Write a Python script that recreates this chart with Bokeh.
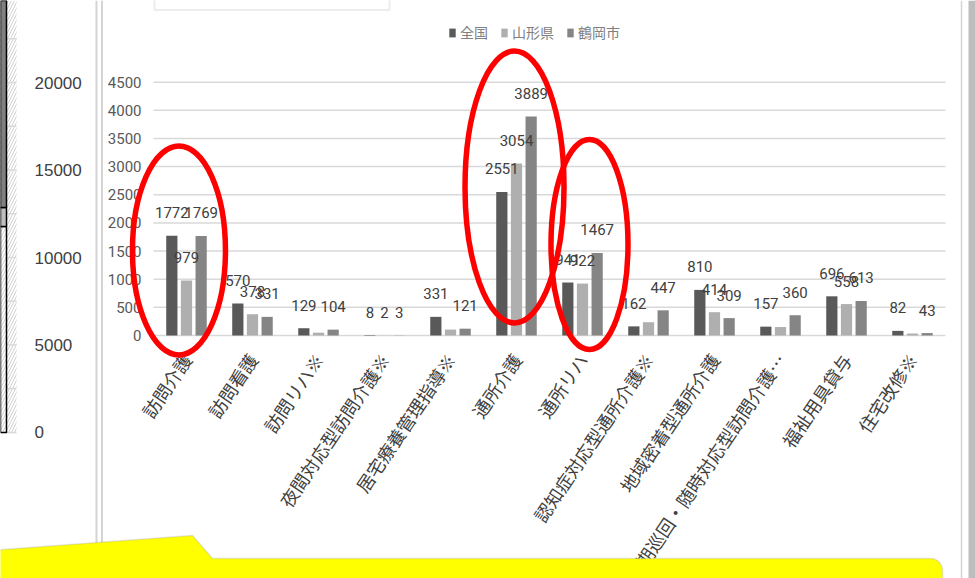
import numpy as np
from bokeh.plotting import figure
from bokeh.models import (Range1d, LinearAxis, FixedTicker, Legend, LegendItem,
                          BoxAnnotation, PolyAnnotation, Span)
from bokeh.core.properties import value
from bokeh.embed import file_html
from bokeh.resources import INLINE

# ---------------- data ----------------
categories = ["訪問介護", "訪問看護", "訪問リハ※", "夜間対応型訪問介護※", "居宅療養管理指導※",
              "通所介護", "通所リハ", "認知症対応型通所介護※", "地域密着型通所介護",
              "定期巡回・随時対応型訪問介護…", "福祉用具貸与", "住宅改修※"]
series_names = ["全国", "山形県", "鶴岡市"]
zenkoku = [1772, 570, 129, 8, 331, 2551, 941, 162, 810, 157, 696, 82]
yamagata = [979, 378, 50, 2, 105, 3054, 922, 236, 414, 150, 558, 35]
tsuruoka = [1769, 331, 104, 3, 121, 3889, 1467, 447, 309, 360, 613, 43]
# which data labels are shown in the original chart
zenkoku_labelled = [True] * 12
yamagata_labelled = [True, True, False, True, False, True, True, False, True, False, True, False]
tsuruoka_labelled = [True] * 12
y_ticks = [0, 500, 1000, 1500, 2000, 2500, 3000, 3500, 4000, 4500]

# emphasised categories (red ellipses)
highlight = ["訪問介護", "通所介護", "通所リハ"]
highlight_level = [1510, 2638, 1617]

# neighbouring (cropped) chart on the left
left_ticks = [0, 5000, 10000, 15000, 20000, 25000]
left_grid = [0, 2500, 5000, 7500, 10000, 12500, 15000, 17500, 20000, 22500, 25000]
left_segments = [11770, 1090, 14000]

# ---------------- styles ----------------
colors = ["#595959", "#afafaf", "#858585"]
offsets = [-0.222, 0.0, 0.222]
bar_w = 0.17
ell_shift = [-0.114, -0.03, 0.106]
ell_w = [93, 99, 77]
ell_h = [209, 272, 210]
W, H = 975, 578
NUM_FONT = "Roboto"
JP_FONT = "Noto Sans CJK JP"

p = figure(width=W, height=H, x_range=Range1d(-2.818, 11.9545), y_range=Range1d(-4317, 5951),
           x_axis_type=None, y_axis_type=None, toolbar_location=None, output_backend="svg",
           min_border=0, outline_line_color=None, background_fill_color="white",
           border_fill_color="white")
p.extra_x_ranges = {"lx": Range1d(0.18, 19.68)}
p.extra_y_ranges = {"ly": Range1d(-8343, 24686)}

# ---- left cropped chart ----
strip = BoxAnnotation(left=-20, right=16, bottom=H - 433, left_units="screen", right_units="screen",
                      bottom_units="screen", fill_alpha=0, line_color=None,
                      hatch_pattern="/", hatch_color="#d0d0d0", hatch_scale=6, hatch_weight=1,
                      level="underlay")
p.add_layout(strip)
p.segment(x0=0.3, x1=0.5, y0=left_grid, y1=left_grid, x_range_name="lx", y_range_name="ly",
          line_color="#d9d9d9", line_width=1.5)
cum = np.cumsum(left_segments)
p.vbar(x=0, bottom=np.concatenate([[0], cum[:-1]]), top=cum, width=0.6,
       x_range_name="lx", y_range_name="ly",
       fill_color=["white", "#bfbfbf", "#808080"], fill_alpha=[0, 1, 1],
       line_color="black", line_width=1.5)
laxis = LinearAxis(x_range_name="lx", y_range_name="ly", ticker=FixedTicker(ticks=left_ticks),
                   fixed_location=0.5, major_label_standoff=12,
                   axis_line_color=None, major_tick_line_color=None, minor_tick_line_color=None,
                   major_label_text_font="Liberation Sans", major_label_text_font_size="17px",
                   major_label_text_color="#404040")
p.add_layout(laxis, "right")

# ---- panel borders ----
for loc, lw in [(96, 2), (101.5, 2), (961, 1.5)]:
    p.add_layout(Span(location=loc, location_units="screen", dimension="height",
                      line_color="#d4d4d4", line_width=lw))
p.add_layout(BoxAnnotation(left=968, right=990, left_units="screen", right_units="screen",
                           fill_color="#bdbdbd", fill_alpha=1, line_color=None))
p.add_layout(BoxAnnotation(left=154, right=389, bottom=H - 9.5, top=H + 10,
                           left_units="screen", right_units="screen", bottom_units="screen",
                           top_units="screen", fill_color="white", fill_alpha=1,
                           line_color="#bfbfbf", line_width=2))

# ---- main chart ----
n = len(categories)
idx = np.arange(n)
p.segment(x0=-0.5, x1=n - 0.5, y0=y_ticks, y1=y_ticks, line_color="#d9d9d9", line_width=1.5)

all_vals = [zenkoku, yamagata, tsuruoka]
all_shown = [zenkoku_labelled, yamagata_labelled, tsuruoka_labelled]
renderers = []
for vals, col, off in zip(all_vals, colors, offsets):
    renderers.append(p.vbar(x=idx + off, top=vals, width=bar_w, fill_color=col, line_color=None))
for vals, shown, off in zip(all_vals, all_shown, offsets):
    p.text(x=idx + off, y=vals, text=[str(v) if s else "" for v, s in zip(vals, shown)],
           text_align="center", text_baseline="middle", y_offset=-23,
           text_font=value(NUM_FONT), text_font_size="15px", text_color="#404040")

yaxis = LinearAxis(ticker=FixedTicker(ticks=y_ticks), fixed_location=-0.5, major_label_standoff=6,
                   axis_line_color=None, major_tick_line_color=None, minor_tick_line_color=None,
                   major_label_text_font=NUM_FONT, major_label_text_font_size="15px",
                   major_label_text_color="#595959")
p.add_layout(yaxis, "left")

xaxis = LinearAxis(ticker=FixedTicker(ticks=list(range(n))),
                   major_label_overrides={i: c for i, c in enumerate(categories)},
                   fixed_location=0, major_label_orientation=np.deg2rad(56),
                   major_label_standoff=14,
                   axis_line_color=None, major_tick_line_color=None, minor_tick_line_color=None,
                   major_label_text_font=JP_FONT, major_label_text_font_size="18px",
                   major_label_text_color="#404040")
p.add_layout(xaxis, "below")

legend = Legend(items=[LegendItem(label=nm, renderers=[r]) for nm, r in zip(series_names, renderers)],
                orientation="horizontal", location=(448, H - 33 - 9), padding=0, margin=0,
                spacing=12, label_standoff=4, glyph_width=8, glyph_height=11, label_height=18,
                label_text_font=JP_FONT, label_text_font_size="14px", label_text_color="#808080",
                border_line_color=None, background_fill_alpha=0)
p.add_layout(legend)

hi = [categories.index(c) for c in highlight]
er = p.ellipse(x=np.array(hi) + np.array(ell_shift), y=highlight_level, width=ell_w, height=ell_h,
               width_units="screen", height_units="screen",
               fill_color=None, line_color="#ff0000", line_width=5.5)
er.level = "overlay"

# ---- yellow callout ----
t = np.linspace(0, np.pi / 2, 8)
pts = [(-5, 549.5), (192, 535), (212, 558), (930, 558)]
pts += [(930 + 12 * np.sin(a), 570 - 12 * np.cos(a)) for a in t]
pts += [(942, 600), (-5, 600)]
p.add_layout(PolyAnnotation(xs=[q[0] for q in pts], ys=[H - q[1] for q in pts],
                            xs_units="screen", ys_units="screen",
                            fill_color="#ffff00", fill_alpha=1,
                            line_color="#a6a6a6", line_width=1.5))

open("out.html", "w").write(file_html(p, INLINE))
